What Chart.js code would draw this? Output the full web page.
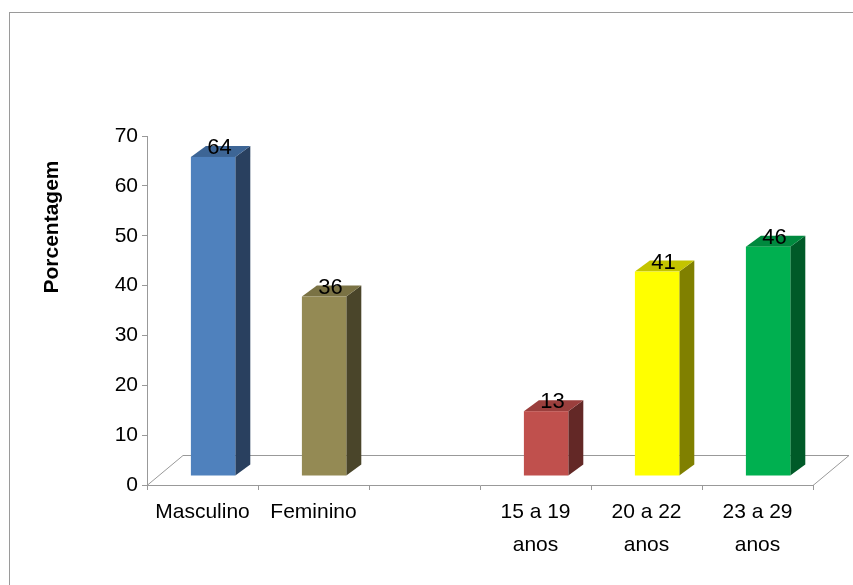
<!DOCTYPE html>
<html>
<head>
<meta charset="utf-8">
<script src="https://cdn.jsdelivr.net/npm/chart.js@4"></script>
<style>
  html, body { margin: 0; padding: 0; background: #fff; }
  #wrap { width: 853px; height: 585px; }
</style>
</head>
<body>
<div id="wrap"><canvas id="chart" width="853" height="585"></canvas></div>
<script>
const categories = ['Masculino', 'Feminino', '', ['15 a 19', 'anos'], ['20 a 22', 'anos'], ['23 a 29', 'anos']];
const percentages = [64, 36, null, 13, 41, 46];
const frontColors = ['#4F81BD', '#948A54', null, '#C0504D', '#FFFF00', '#00B050'];
const topColors = ['#3D6595', '#7A7244', null, '#9B3F3D', '#C4C400', '#00893E'];
const sideColors = ['#29405F', '#4A452A', null, '#632826', '#808000', '#005A28'];
const yTicks = [0, 10, 20, 30, 40, 50, 60, 70];

const FONT = 'Liberation Sans, Arial, sans-serif';
const lineGray = '#999999';

// 3D look: front face pushed back into the floor, plus a small depth
const frontShift = { x: 10.6, y: -9 };
const barDepth = { x: 15, y: -11 };
const floorDepth = { x: 36, y: -30 };

const bars3d = {
  id: 'bars3d',
  beforeDraw(chart) {
    const ctx = chart.ctx;
    ctx.save();
    ctx.strokeStyle = '#9A9A9A';
    ctx.lineWidth = 1;
    ctx.strokeRect(9.5, 12.5, 900, 700);
    ctx.restore();
  },
  beforeDatasetsDraw(chart) {
    const { ctx, chartArea } = chart;
    const l = chartArea.left, r = chartArea.right, b = chartArea.bottom;
    ctx.save();
    ctx.strokeStyle = lineGray;
    ctx.lineWidth = 1;
    ctx.beginPath();
    ctx.moveTo(l, b + 0.5);
    ctx.lineTo(l + floorDepth.x, b + floorDepth.y + 0.5);
    ctx.lineTo(r + floorDepth.x, b + floorDepth.y + 0.5);
    ctx.lineTo(r, b + 0.5);
    ctx.stroke();
    ctx.restore();
  },
  afterDatasetsDraw(chart) {
    const ctx = chart.ctx;
    const meta = chart.getDatasetMeta(0);
    meta.data.forEach((bar, i) => {
      if (percentages[i] == null) return;
      const p = bar.getProps(['x', 'y', 'base', 'width'], true);
      const x0 = p.x - p.width / 2 + frontShift.x;
      const x1 = p.x + p.width / 2 + frontShift.x;
      const yt = p.y + frontShift.y;
      const yb = p.base + frontShift.y;
      const dx = barDepth.x, dy = barDepth.y;

      ctx.save();
      // side
      ctx.fillStyle = sideColors[i];
      ctx.beginPath();
      ctx.moveTo(x1, yt);
      ctx.lineTo(x1 + dx, yt + dy);
      ctx.lineTo(x1 + dx, yb + dy);
      ctx.lineTo(x1, yb);
      ctx.closePath();
      ctx.fill();
      // top
      ctx.fillStyle = topColors[i];
      ctx.beginPath();
      ctx.moveTo(x0, yt);
      ctx.lineTo(x0 + dx, yt + dy);
      ctx.lineTo(x1 + dx, yt + dy);
      ctx.lineTo(x1, yt);
      ctx.closePath();
      ctx.fill();
      // front
      ctx.fillStyle = frontColors[i];
      ctx.fillRect(x0, yt, x1 - x0, yb - yt);

      // value label
      ctx.fillStyle = '#000';
      ctx.font = '22px ' + FONT;
      ctx.textAlign = 'center';
      ctx.textBaseline = 'alphabetic';
      ctx.fillText(String(percentages[i]), (x0 + x1) / 2 + 6.5, yt - 3);
      ctx.restore();
    });

    // y axis title
    ctx.save();
    ctx.translate(52, 227);
    ctx.rotate(-Math.PI / 2);
    ctx.fillStyle = '#000';
    ctx.font = 'bold 21px ' + FONT;
    ctx.textAlign = 'center';
    ctx.textBaseline = 'middle';
    ctx.fillText('Porcentagem', 0, 0);
    ctx.restore();
  }
};

new Chart(document.getElementById('chart'), {
  type: 'bar',
  data: {
    labels: categories,
    datasets: [{
      data: percentages,
      backgroundColor: 'rgba(0,0,0,0)',
      borderWidth: 0,
      categoryPercentage: 0.8,
      barPercentage: 0.5
    }]
  },
  options: {
    responsive: false,
    animation: false,
    events: [],
    layout: { padding: { top: 136, right: 40, left: 0, bottom: 0 } },
    plugins: { legend: { display: false }, tooltip: { enabled: false } },
    scales: {
      x: {
        afterFit: s => { s.height = 100; },
        border: { display: true, color: lineGray, width: 1 },
        grid: { display: true, drawOnChartArea: false, drawTicks: true, tickLength: 5, color: lineGray, offset: true },
        ticks: {
          color: '#000',
          padding: 6,
          font: { family: FONT, size: 21, lineHeight: 1.55 },
          maxRotation: 0,
          autoSkip: false
        }
      },
      y: {
        min: 0,
        max: 70,
        afterFit: s => { s.width = 147; },
        afterBuildTicks: s => { s.ticks = yTicks.map(v => ({ value: v })); },
        border: { display: true, color: lineGray, width: 1 },
        grid: { display: true, drawOnChartArea: false, drawTicks: true, tickLength: 5, color: lineGray },
        ticks: {
          color: '#000',
          padding: 4,
          font: { family: FONT, size: 21 }
        }
      }
    }
  },
  plugins: [bars3d]
});
</script>
</body>
</html>
